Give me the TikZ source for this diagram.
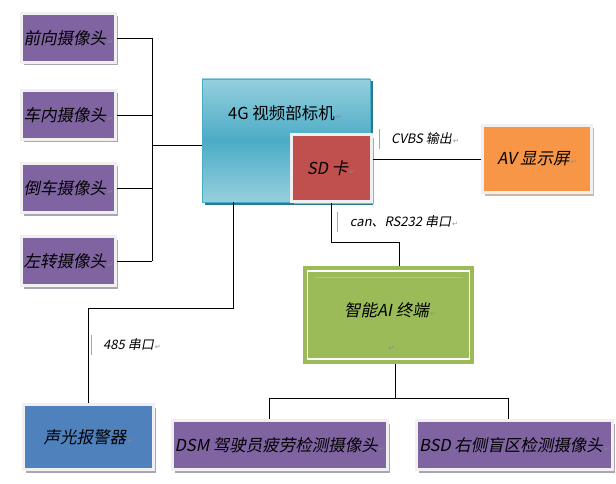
\documentclass[tikz,border=0pt]{standalone}
\usepackage{fontspec}
\setmainfont{Noto Sans CJK SC}
\newfontfamily\cjkit[FakeSlant=0.2]{Noto Sans CJK SC}
\newfontfamily\retfont{DejaVu Sans}
\usetikzlibrary{calc,shadows}
\definecolor{campurple}{HTML}{8064A2}
\definecolor{framegray}{HTML}{F0F0F0}
\definecolor{shadowgray}{HTML}{A9A5B2}
\definecolor{avshadow}{HTML}{D4B49A}
\definecolor{unitlight}{HTML}{96CFDE}
\definecolor{unitmid}{HTML}{4BACC6}
\definecolor{unitdark}{HTML}{2B7A8F}
\definecolor{sdred}{HTML}{C0504D}
\definecolor{avorange}{HTML}{F79646}
\definecolor{aigreen}{HTML}{9BBB59}
\definecolor{aiblue}{HTML}{A9BCE0}
\definecolor{alarmblue}{HTML}{4F81BD}
\definecolor{barblue}{HTML}{8EAAD6}
\definecolor{retgray}{HTML}{8C8C8C}
\newcommand{\retmark}{{\retfont\color{retgray}\fontsize{7}{7}\selectfont\,↵}}
\tikzset{
  panel/.style={draw=framegray, line width=3pt, inner sep=0pt,
    font={\cjkit\fontsize{16.5}{18}\selectfont},
    drop shadow={shadow xshift=2.5pt, shadow yshift=-3pt, fill=#1, opacity=1}},
  panel/.default=shadowgray,
  unitbox/.style={top color=unitlight, bottom color=unitlight, middle color=unitmid,
    draw=unitmid, line width=0.8pt, inner sep=0pt,
    drop shadow={shadow xshift=2.5pt, shadow yshift=-2.5pt, fill=unitdark, opacity=1}},
  aibox/.style={fill=aigreen, inner sep=0pt},
  link/.style={draw=black, line width=0.9pt},
  note/.style={font={\cjkit\fontsize{13}{15}\selectfont}, inner sep=0pt},
  notebar/.style={draw=barblue, line width=0.8pt},
}
\begin{document}
\begin{tikzpicture}[x=1pt, y=-1pt]
  \useasboundingbox (0,0) rectangle (616,484);

  % === Cameras on the left ===
  \node[panel, fill=campurple, minimum width=94pt, minimum height=49pt] (front) at (68.5,38) {前向摄像头\retmark};
  \node[panel, fill=campurple, minimum width=94pt, minimum height=49pt] (inside) at (68.5,115) {车内摄像头\retmark};
  \node[panel, fill=campurple, minimum width=94pt, minimum height=49pt] (reverse) at (68.5,188) {倒车摄像头\retmark};
  \node[panel, fill=campurple, minimum width=94pt, minimum height=49pt] (leftturn) at (68.5,261) {左转摄像头\retmark};

  % === Main unit with SD card ===
  \node[unitbox, minimum width=168pt, minimum height=123pt] (unit) at (286,140.5) {};
  \node[font={\fontsize{16.5}{18}\selectfont}] (unittext) at (285,113) {4G 视频部标机\retmark};
  \node[panel, fill=sdred, minimum width=80pt, minimum height=66pt] (sd) at (331,168) {SD 卡\retmark};

  % Display
  \node[panel=avshadow, fill=avorange, minimum width=109pt, minimum height=67pt] (av) at (537,159) {AV 显示屏\retmark};

  % === AI terminal ===
  \node[aibox, minimum width=171pt, minimum height=98pt] (ai) at (388.5,315) {};
  \draw[white, line width=1.5pt] ($(ai.north west)+(4.5pt,-5pt)$) rectangle ($(ai.south east)+(-4.5pt,5pt)$);
  \draw[aiblue, line width=1pt] ($(ai.north west)+(12pt,-12pt)$) -- ($(ai.north east)+(-11pt,-12pt)$);
  \node[note, font={\cjkit\fontsize{16.5}{18}\selectfont}] (aitext) at (390,310) {智能AI 终端\retmark};
  \node[inner sep=0pt] (aimark) at (391,348) {\retmark};

  % === Bottom row ===
  \node[panel, fill=alarmblue, minimum width=130pt, minimum height=65pt] (alarm) at (88.5,437) {声光报警器\retmark};
  \node[panel, fill=campurple, minimum width=214.5pt, minimum height=49pt] (dsm) at (279.75,445) {DSM 驾驶员疲劳检测摄像头\retmark};
  \node[panel, fill=campurple, minimum width=196pt, minimum height=49pt] (bsd) at (514.5,445) {BSD 右侧盲区检测摄像头\retmark};

  % === Connectors ===
  \coordinate (bus) at (152,145);
  \foreach \cam in {front,inside,reverse,leftturn}
    \draw[link] (\cam.east) -- (\cam.east -| bus);
  \draw[link] (front.east -| bus) -- (leftturn.east -| bus);
  \draw[link] (bus) -- (bus -| unit.west);

  \draw[link] (sd.east |- av.west) -- (av.west);

  \coordinate (sdai) at (399,242);
  \draw[link] (sd.south) |- (sdai) -- (sdai |- ai.north);

  \coordinate (alarmbend) at (233,308);
  \draw[link] (alarmbend |- unit.south) -- (alarmbend) -| (alarm.north);

  \coordinate (aisplit) at (395,398);
  \coordinate (dsmtop) at (269,398);
  \coordinate (bsdtop) at (508,398);
  \draw[link] (aisplit |- ai.south) -- (aisplit);
  \draw[link] (dsmtop |- dsm.north) -- (dsmtop) -- (bsdtop) -- (bsdtop |- bsd.north);

  % === Link labels ===
  \node[note] (cvbs) at (425,139) {CVBS 输出\retmark};
  \draw[notebar] ($(cvbs.west)+(-12pt,10pt)$) -- ($(cvbs.west)+(-12pt,-10pt)$);
  \node[note] (canlink) at (404,222) {can、RS232 串口\retmark};
  \draw[notebar] ($(canlink.west)+(-12pt,10pt)$) -- ($(canlink.west)+(-12pt,-10pt)$);
  \node[note] (rs485) at (132,345) {485 串口\retmark};
  \draw[notebar] ($(rs485.west)+(-12pt,10pt)$) -- ($(rs485.west)+(-12pt,-10pt)$);

\end{tikzpicture}
\end{document}
